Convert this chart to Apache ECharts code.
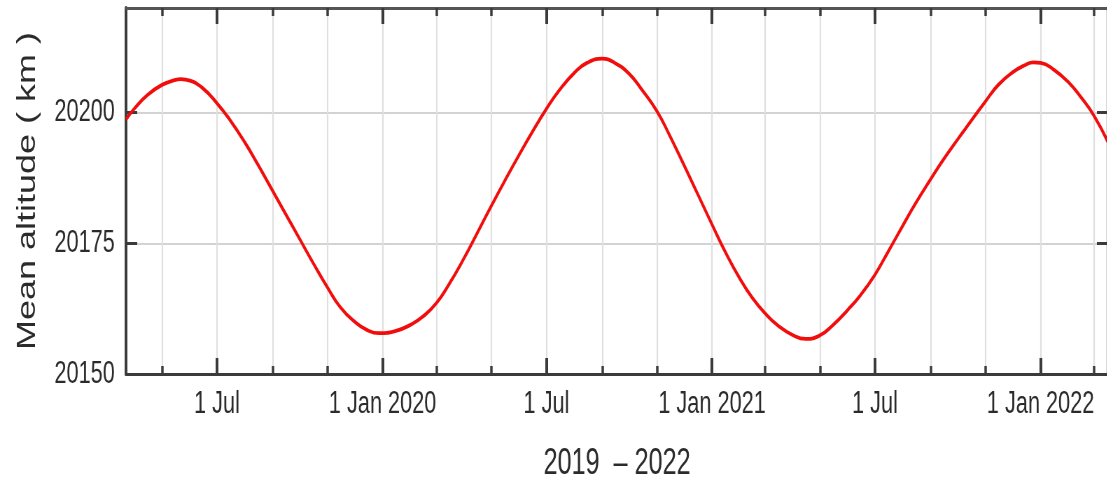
<!DOCTYPE html>
<html>
<head>
<meta charset="utf-8">
<script src="https://cdn.jsdelivr.net/npm/echarts@6/dist/echarts.min.js"></script>
<style>
  html, body { margin: 0; padding: 0; background: #ffffff; overflow: hidden; }
  /* The chart is laid out wide and squeezed horizontally, giving the narrow lettering */
  #chart { width: 1582px; height: 481px; transform: scaleX(0.7); transform-origin: 0 0; }
</style>
</head>
<body>
<div id="chart"></div>
<script>
// Mean orbital altitude, sampled twice a month
const dates = [
  '2019-03-22', '2019-04-01', '2019-04-15', '2019-05-01', '2019-05-15', '2019-05-22',
  '2019-06-01', '2019-06-15', '2019-07-01', '2019-07-15', '2019-08-01', '2019-08-15',
  '2019-09-01', '2019-09-15', '2019-10-01', '2019-10-15', '2019-11-01', '2019-11-15',
  '2019-12-01', '2019-12-15', '2019-12-28', '2020-01-15', '2020-02-01', '2020-02-15',
  '2020-03-01', '2020-03-15', '2020-04-01', '2020-04-15', '2020-05-01', '2020-05-15',
  '2020-06-01', '2020-06-15', '2020-07-01', '2020-07-15', '2020-08-01', '2020-08-15',
  '2020-09-01', '2020-09-15', '2020-10-01', '2020-10-15', '2020-11-01', '2020-11-15',
  '2020-12-01', '2020-12-15', '2021-01-01', '2021-01-15', '2021-02-01', '2021-02-15',
  '2021-03-01', '2021-03-15', '2021-04-01', '2021-04-15', '2021-05-01', '2021-05-15',
  '2021-06-01', '2021-06-15', '2021-07-01', '2021-07-15', '2021-08-01', '2021-08-15',
  '2021-09-01', '2021-09-15', '2021-10-01', '2021-10-15', '2021-11-01', '2021-11-15',
  '2021-12-01', '2021-12-15', '2021-12-24', '2022-01-01', '2022-01-15', '2022-02-01',
  '2022-02-15', '2022-03-01', '2022-03-17'
];
const altitude = [
  20198.7, 20200.9, 20203.4, 20205.3, 20206.2, 20206.4,
  20206.1, 20204.7, 20201.8, 20198.7, 20194.3, 20190.2,
  20185.0, 20180.7, 20175.8, 20171.5, 20166.5, 20162.8,
  20160.0, 20158.4, 20157.8, 20158.2, 20159.4, 20161.0,
  20163.6, 20167.2, 20172.3, 20176.9, 20182.2, 20186.7,
  20192.0, 20196.2, 20200.7, 20204.2, 20207.6, 20209.5,
  20210.3, 20209.5, 20207.4, 20204.4, 20200.2, 20195.6,
  20189.9, 20184.8, 20178.6, 20173.6, 20168.2, 20164.5,
  20161.6, 20159.3, 20157.4, 20156.7, 20157.4, 20159.3,
  20162.3, 20165.1, 20169.0, 20173.2, 20178.4, 20182.6,
  20187.3, 20191.0, 20194.9, 20198.2, 20202.2, 20205.3,
  20207.7, 20209.1, 20209.6, 20209.5, 20208.3, 20205.8,
  20202.9, 20199.5, 20194.3
];

// Axis extents, ticks and labels
const xRange = ['2019-03-22', '2022-03-17'];
const yRange = [20150, 20220];
const yTicks = [20150, 20175, 20200];
const xMinorTicks = [
  '2019-05-01', '2019-07-01', '2019-09-01', '2019-11-01', '2020-01-01', '2020-03-01',
  '2020-05-01', '2020-07-01', '2020-09-01', '2020-11-01', '2021-01-01', '2021-03-01',
  '2021-05-01', '2021-07-01', '2021-09-01', '2021-11-01', '2022-01-01', '2022-03-01'
];
const xMajorTicks = ['2019-07-01', '2020-01-01', '2020-07-01', '2021-01-01', '2021-07-01', '2022-01-01'];
const xLabels = ['1 Jul', '1 Jan 2020', '1 Jul', '1 Jan 2021', '1 Jul', '1 Jan 2022'];
const xTitle = '2019  \u2013 2022';
const yTitle = 'Mean altitude ( km )';

// Dates become day numbers so the x axis is a plain linear scale
const DAY = 86400000;
function dayNum(s) {
  const p = s.split('-').map(Number);
  return Math.round(Date.UTC(p[0], p[1] - 1, p[2]) / DAY);
}

const labelByDay = {};
xMajorTicks.forEach(function (d, i) { labelByDay[dayNum(d)] = xLabels[i]; });

const FRAME = '#3b3b3b';
const TEXT = '#2b2b2b';
const FONT = "'Liberation Sans', Arial, sans-serif";

const xMin = dayNum(xRange[0]);
const xMax = dayNum(xRange[1]);

function xAxisDef(position, major, opts) {
  const base = {
    type: 'value',
    position: position,
    min: xMin,
    max: xMax,
    axisLine: { show: false },
    axisTick: {
      show: true,
      inside: true,
      length: major ? 16 : 8,
      customValues: (major ? xMajorTicks : xMinorTicks).map(dayNum),
      lineStyle: { color: FRAME, width: major ? 4 : 3.5 }
    },
    axisLabel: { show: false },
    splitLine: { show: false }
  };
  return Object.assign(base, opts || {});
}

function yAxisDef(position, opts) {
  const base = {
    type: 'value',
    position: position,
    min: yRange[0],
    max: yRange[1],
    interval: 25,
    axisLine: { show: true, lineStyle: { color: FRAME, width: 4 } },
    axisTick: {
      show: true, inside: true, length: 16, customValues: yTicks,
      lineStyle: { color: FRAME, width: 3 }
    },
    axisLabel: { show: false },
    splitLine: { show: false }
  };
  return Object.assign(base, opts || {});
}

const chart = echarts.init(document.getElementById('chart'), null, { renderer: 'canvas' });

chart.setOption({
  animation: false,
  backgroundColor: '#ffffff',
  grid: { left: 180, right: -1, top: 8, bottom: 107, containLabel: false, outerBoundsMode: 'none' },
  xAxis: [
    xAxisDef('bottom', true, {
      axisLine: { show: true, lineStyle: { color: FRAME, width: 3 } },
      axisLabel: {
        show: true,
        customValues: xMajorTicks.map(dayNum),
        margin: 15,
        fontFamily: FONT,
        fontSize: 31,
        color: TEXT,
        formatter: function (v) { return labelByDay[Math.round(v)] || ''; }
      },
      name: xTitle,
      nameLocation: 'middle',
      nameGap: 72,
      nameMoveOverlap: false,
      nameTextStyle: { fontFamily: FONT, fontSize: 36, color: TEXT }
    }),
    xAxisDef('bottom', false, {
      splitLine: { show: true, lineStyle: { color: '#e0e0e0', width: 2.2 } }
    }),
    xAxisDef('top', true, {
      axisLine: { show: true, lineStyle: { color: '#555555', width: 3 } }
    }),
    xAxisDef('top', false)
  ],
  yAxis: [
    yAxisDef('left', {
      axisLabel: {
        show: true, customValues: yTicks, margin: 16,
        fontFamily: FONT, fontSize: 31, color: TEXT,
        formatter: function (v) { return String(v); }
      },
      splitLine: { show: true, lineStyle: { color: '#d3d3d3', width: 2 } },
      name: yTitle,
      nameLocation: 'middle',
      nameRotate: 90,
      nameGap: 122,
      nameMoveOverlap: false,
      nameTextStyle: { fontFamily: FONT, fontSize: 36, color: TEXT }
    }),
    yAxisDef('right')
  ],
  series: [
    {
      type: 'line',
      xAxisIndex: 0,
      yAxisIndex: 0,
      data: dates.map(function (d, i) { return [dayNum(d), altitude[i]]; }),
      smooth: 0.5,
      showSymbol: false,
      symbol: 'none',
      clip: true,
      lineStyle: { color: '#f20d0d', width: 3.8 }
    }
  ]
});
</script>
</body>
</html>
